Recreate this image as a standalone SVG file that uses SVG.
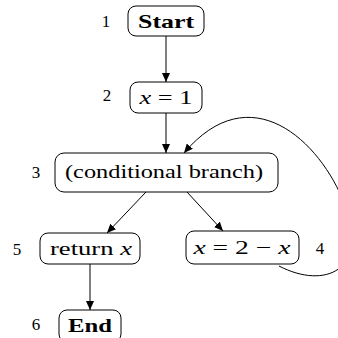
<svg xmlns="http://www.w3.org/2000/svg" width="338" height="338" viewBox="0 0 338 338">
<style>
.box{fill:#fff;stroke:#000;stroke-width:1}
.t{font-family:"Liberation Serif","DejaVu Serif",serif;font-size:19px;fill:#000;text-anchor:middle}
.b{font-weight:bold}
.i{font-style:italic}
.n{font-family:"Liberation Serif","DejaVu Serif",serif;font-size:17px;fill:#000;text-anchor:middle}
.e{fill:none;stroke:#000;stroke-width:1}
</style>
<defs>
<marker id="ah" markerUnits="userSpaceOnUse" markerWidth="10" markerHeight="8" refX="9" refY="4" orient="auto">
<path d="M0,0 L9,4 L0,8 Z" fill="#000"/>
</marker>
</defs>
<rect width="338" height="338" fill="#fff"/>
<g id="edges">
<path class="e" d="M166,36 L166,82" marker-end="url(#ah)"/>
<path class="e" d="M166,113 L166,153" marker-end="url(#ah)"/>
<path class="e" d="M146,192 L107,233" marker-end="url(#ah)"/>
<path class="e" d="M187,192 L223,231" marker-end="url(#ah)"/>
<path class="e" d="M90,264 L90,310" marker-end="url(#ah)"/>
<path class="e" d="M279,266 C325,290 370,270 345,205 C320,140 250,75 184,153" marker-end="url(#ah)"/>
</g>
<g id="n1">
<rect class="box" x="128" y="6" width="76" height="30" rx="8"/>
<text class="t b" x="166" y="28" textLength="56" lengthAdjust="spacingAndGlyphs">Start</text>
<text class="n" x="106" y="27">1</text>
</g>
<g id="n2">
<rect class="box" x="130" y="82" width="72" height="31" rx="8"/>
<text class="t" x="166" y="104" textLength="53" lengthAdjust="spacingAndGlyphs"><tspan class="i">x</tspan> = 1</text>
<text class="n" x="107" y="101">2</text>
</g>
<g id="n3">
<rect class="box" x="55" y="153" width="223" height="39" rx="9"/>
<text class="t" x="164" y="178" textLength="198" lengthAdjust="spacingAndGlyphs">(conditional branch)</text>
<text class="n" x="36" y="178">3</text>
</g>
<g id="n5">
<rect class="box" x="40" y="233" width="100" height="31" rx="8"/>
<text class="t" x="91" y="255" textLength="82" lengthAdjust="spacingAndGlyphs">return <tspan class="i">x</tspan></text>
<text class="n" x="17" y="255">5</text>
</g>
<g id="n4">
<rect class="box" x="186" y="231" width="113" height="33" rx="8"/>
<text class="t" x="242" y="254" textLength="97" lengthAdjust="spacingAndGlyphs"><tspan class="i">x</tspan> = 2 − <tspan class="i">x</tspan></text>
<text class="n" x="320" y="254">4</text>
</g>
<g id="n6">
<rect class="box" x="59" y="310" width="62" height="32" rx="8"/>
<text class="t b" x="90" y="332" textLength="44" lengthAdjust="spacingAndGlyphs">End</text>
<text class="n" x="36" y="330">6</text>
</g>
</svg>
